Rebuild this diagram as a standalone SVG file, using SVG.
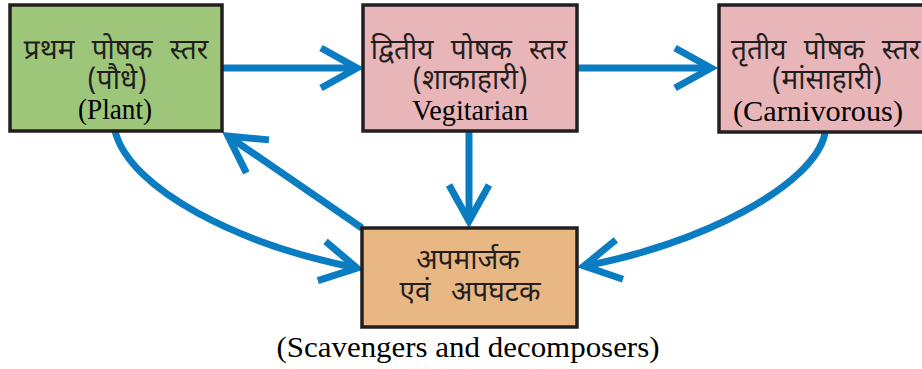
<svg xmlns="http://www.w3.org/2000/svg" width="922" height="369" viewBox="0 0 922 369">
<style>
.box{stroke:#231f20;stroke-width:3.5}
.g{fill:#9dc67a}.p{fill:#e8b5b9}.o{fill:#e8b784}
.hi{font-family:"Noto Sans Devanagari","Lohit Devanagari","FreeSans","Noto Sans",sans-serif;font-size:28px;fill:#231f20;text-anchor:middle}
.ws{word-spacing:10px}
.en{font-family:"Liberation Serif","Times New Roman",serif;font-size:30px;fill:#000;text-anchor:middle}
.c{fill:none;stroke:#0a7cc1;stroke-width:7}
</style>
<defs>
<marker id="ah" markerUnits="userSpaceOnUse" markerWidth="60" markerHeight="60" viewBox="-50 -30 60 60" refX="0" refY="0" orient="auto" overflow="visible">
<path d="M-36,-20 L0,0 L-36,20" fill="none" stroke="#0a7cc1" stroke-width="7"/>
</marker>
</defs>
<rect width="922" height="369" fill="#fff"/>
<g id="connectors">
<path class="c" d="M222,68 L357,68" marker-end="url(#ah)"/>
<path class="c" d="M577,68 L711,68" marker-end="url(#ah)"/>
<path class="c" d="M469,132 L469,221" marker-end="url(#ah)"/>
<path class="c" d="M362,228 L228,136" marker-end="url(#ah)"/>
<path class="c" d="M115,131 C130,190 240,245 357,268" marker-end="url(#ah)"/>
<path class="c" d="M825,133 C815,185 700,245 584,266" marker-end="url(#ah)"/>
</g>
<g id="n1">
<rect class="box g" x="10" y="5" width="212" height="126"/>
<text class="hi ws" x="116" y="59">प्रथम पोषक स्तर</text>
<text class="hi" x="117" y="89">(पौधे)</text>
<text class="en" x="115" y="119" textLength="74" lengthAdjust="spacingAndGlyphs">(Plant)</text>
</g>
<g id="n2">
<rect class="box p" x="363" y="5" width="214" height="126"/>
<text class="hi ws" x="469" y="59">द्वितीय पोषक स्तर</text>
<text class="hi" x="470" y="89">(शाकाहारी)</text>
<text class="en" x="470" y="120" textLength="116" lengthAdjust="spacingAndGlyphs">Vegitarian</text>
</g>
<g id="n3">
<rect class="box p" x="719" y="5" width="210" height="127"/>
<text class="hi ws" x="731" y="59" style="text-anchor:start">तृतीय पोषक स्तर</text>
<text class="hi" x="827" y="89">(मांसाहारी)</text>
<text class="en" x="818" y="121" textLength="170" lengthAdjust="spacingAndGlyphs">(Carnivorous)</text>
</g>
<g id="n4">
<rect class="box o" x="362" y="228" width="215" height="99"/>
<text class="hi" x="468" y="269">अपमार्जक</text>
<text class="hi" x="470" y="301" style="word-spacing:13px">एवं अपघटक</text>
</g>
<text class="en" x="468" y="357" textLength="383" lengthAdjust="spacingAndGlyphs">(Scavengers and decomposers)</text>
</svg>
